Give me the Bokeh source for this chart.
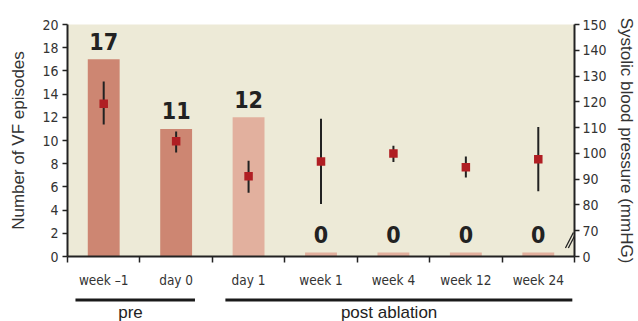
from bokeh.plotting import figure
from bokeh.models import Range1d, LinearAxis, FixedTicker
from bokeh.layouts import column
from bokeh.core.properties import value
from bokeh.embed import file_html
from bokeh.resources import INLINE

# ---------------- data ----------------
categories = ["week \u20131", "day 0", "day 1", "week 1", "week 4", "week 12", "week 24"]
phase = ["pre", "pre", "post", "post", "post", "post", "post"]
vf_episodes = [17, 11, 12, 0, 0, 0, 0]
sbp_mean = [119.3, 104.7, 91.1, 96.9, 100.0, 94.6, 97.7]
sbp_low = [111.2, 100.3, 84.7, 80.4, 96.7, 90.6, 85.3]
sbp_high = [127.9, 108.5, 97.1, 113.4, 103.0, 98.8, 110.2]
left_ticks = list(range(0, 21, 2))
right_ticks = [60, 70, 80, 90, 100, 110, 120, 130, 140, 150]
right_tick_labels = {60: "0"}
group_names = ["pre", "post ablation"]
group_first = ["week \u20131", "day 1"]
group_last = ["day 0", "week 24"]

# ---------------- style ----------------
NARROW = "'DejaVu Sans Condensed', Roboto, sans-serif"
SANS = "Liberation Sans"
BG = "#EDEAD7"
DARK = "#222222"
TXT = "#333333"
bar_colors = {"pre": "#CD8672", "post": "#E2B09E"}
ZERO_STUB = 0.34

n = len(categories)
xs = [i + 0.5 for i in range(n)]
pos = dict(zip(categories, xs))
bar_tops = [v if v > 0 else ZERO_STUB for v in vf_episodes]
colors = [bar_colors[ph] for ph in phase]

p = figure(x_range=Range1d(0, n), y_range=Range1d(0, 20),
           width=638, height=290, output_backend="svg", toolbar_location=None,
           x_axis_location=None, y_axis_location=None,
           min_border_left=67, min_border_right=58, min_border_top=24, min_border_bottom=34)
p.background_fill_color = BG
p.border_fill_color = "white"
p.outline_line_color = None
p.grid.visible = False
p.extra_y_ranges = {"bp": Range1d(60, 150)}

# bars
p.vbar(x=xs, top=bar_tops, width=0.44, fill_color=colors, line_color=None)
# value labels
p.text(x=xs, y=bar_tops, text=[str(v) for v in vf_episodes], y_offset=-18,
       text_align="center", text_baseline="alphabetic", text_font=value(NARROW),
       text_font_style="bold", text_font_size="23px", text_color=DARK)
# blood pressure
p.segment(x0=xs, x1=xs, y0=sbp_low, y1=sbp_high, y_range_name="bp",
          line_width=2, line_color=DARK)
p.scatter(x=xs, y=sbp_mean, y_range_name="bp", marker="square", size=8.5,
          fill_color="#B01E23", line_color=None)

# axis-break mark beside the right axis (two short slanted strokes)
brk_x0 = [n - 0.125, n - 0.085]
brk_x1 = [n - 0.015, n + 0.025]
p.segment(x0=brk_x0, x1=brk_x1, y0=[63.3, 63.3], y1=[69.3, 69.3], y_range_name="bp",
          line_width=1.3, line_color=DARK)

# bottom axis: labels at category centres, ticks at category boundaries
bottom_axis = LinearAxis(ticker=FixedTicker(ticks=xs, minor_ticks=list(range(n + 1))),
                         major_label_overrides={x: c for x, c in zip(xs, categories)},
                         major_tick_out=0, major_tick_in=0, major_tick_line_color=None,
                         minor_tick_out=6, minor_tick_in=0,
                         minor_tick_line_width=1.5, minor_tick_line_color=DARK,
                         axis_line_width=2, axis_line_color=DARK,
                         major_label_standoff=9,
                         major_label_text_font=NARROW, major_label_text_font_size="13.5px",
                         major_label_text_color=TXT)
p.add_layout(bottom_axis, "below")

# left axis
left_axis = LinearAxis(ticker=FixedTicker(ticks=left_ticks), axis_label="Number of VF episodes",
                       major_tick_out=5, major_tick_in=0, minor_tick_out=0, minor_tick_in=0,
                       axis_line_width=2, axis_line_color=DARK,
                       major_tick_line_width=1.5, major_tick_line_color=DARK,
                       major_label_text_font=NARROW, major_label_text_font_size="14px",
                       major_label_text_color=TXT, major_label_standoff=4,
                       axis_label_text_font=SANS, axis_label_text_font_size="17px",
                       axis_label_text_font_style="normal", axis_label_text_color=TXT,
                       axis_label_standoff=11)
p.add_layout(left_axis, "left")

# right axis
right_axis = LinearAxis(y_range_name="bp", ticker=FixedTicker(ticks=right_ticks),
                        major_label_overrides=right_tick_labels,
                        axis_label="Systolic blood pressure (mmHG)",
                        major_tick_out=5, major_tick_in=0, minor_tick_out=0, minor_tick_in=0,
                        axis_line_width=2, axis_line_color=DARK,
                        major_tick_line_width=1.5, major_tick_line_color=DARK,
                        major_label_text_font=NARROW, major_label_text_font_size="14px",
                        major_label_text_color=TXT, major_label_standoff=3,
                        axis_label_text_font=SANS, axis_label_text_font_size="17px",
                        axis_label_text_font_style="normal", axis_label_text_color=TXT,
                        axis_label_standoff=7)
p.add_layout(right_axis, "right")

# group row
p2 = figure(x_range=p.x_range, y_range=Range1d(31, 0), width=638, height=31,
            output_backend="svg", toolbar_location=None,
            x_axis_location=None, y_axis_location=None,
            min_border_left=67, min_border_right=58, min_border_top=0, min_border_bottom=0)
p2.outline_line_color = None
p2.background_fill_color = "white"
p2.border_fill_color = "white"
p2.grid.visible = False
pad_l = [-0.39, -0.32]
pad_r = [0.26, 0.47]
p2.segment(x0=[pos[f] + o for f, o in zip(group_first, pad_l)],
           x1=[pos[f] + o for f, o in zip(group_last, pad_r)],
           y0=[9.5, 9.5], y1=[9.5, 9.5], line_width=3, line_color="#1a1a1a")
text_x = [pos["week \u20131"] + 0.37, pos["week 4"] - 0.06]
p2.text(x=text_x, y=[22, 22], text=group_names, text_align="center",
        text_baseline="alphabetic", text_font=value(SANS), text_font_size="17px",
        text_color="#222222")

layout = column(p, p2, spacing=0)
open("out.html", "w").write(file_html(layout, INLINE))
